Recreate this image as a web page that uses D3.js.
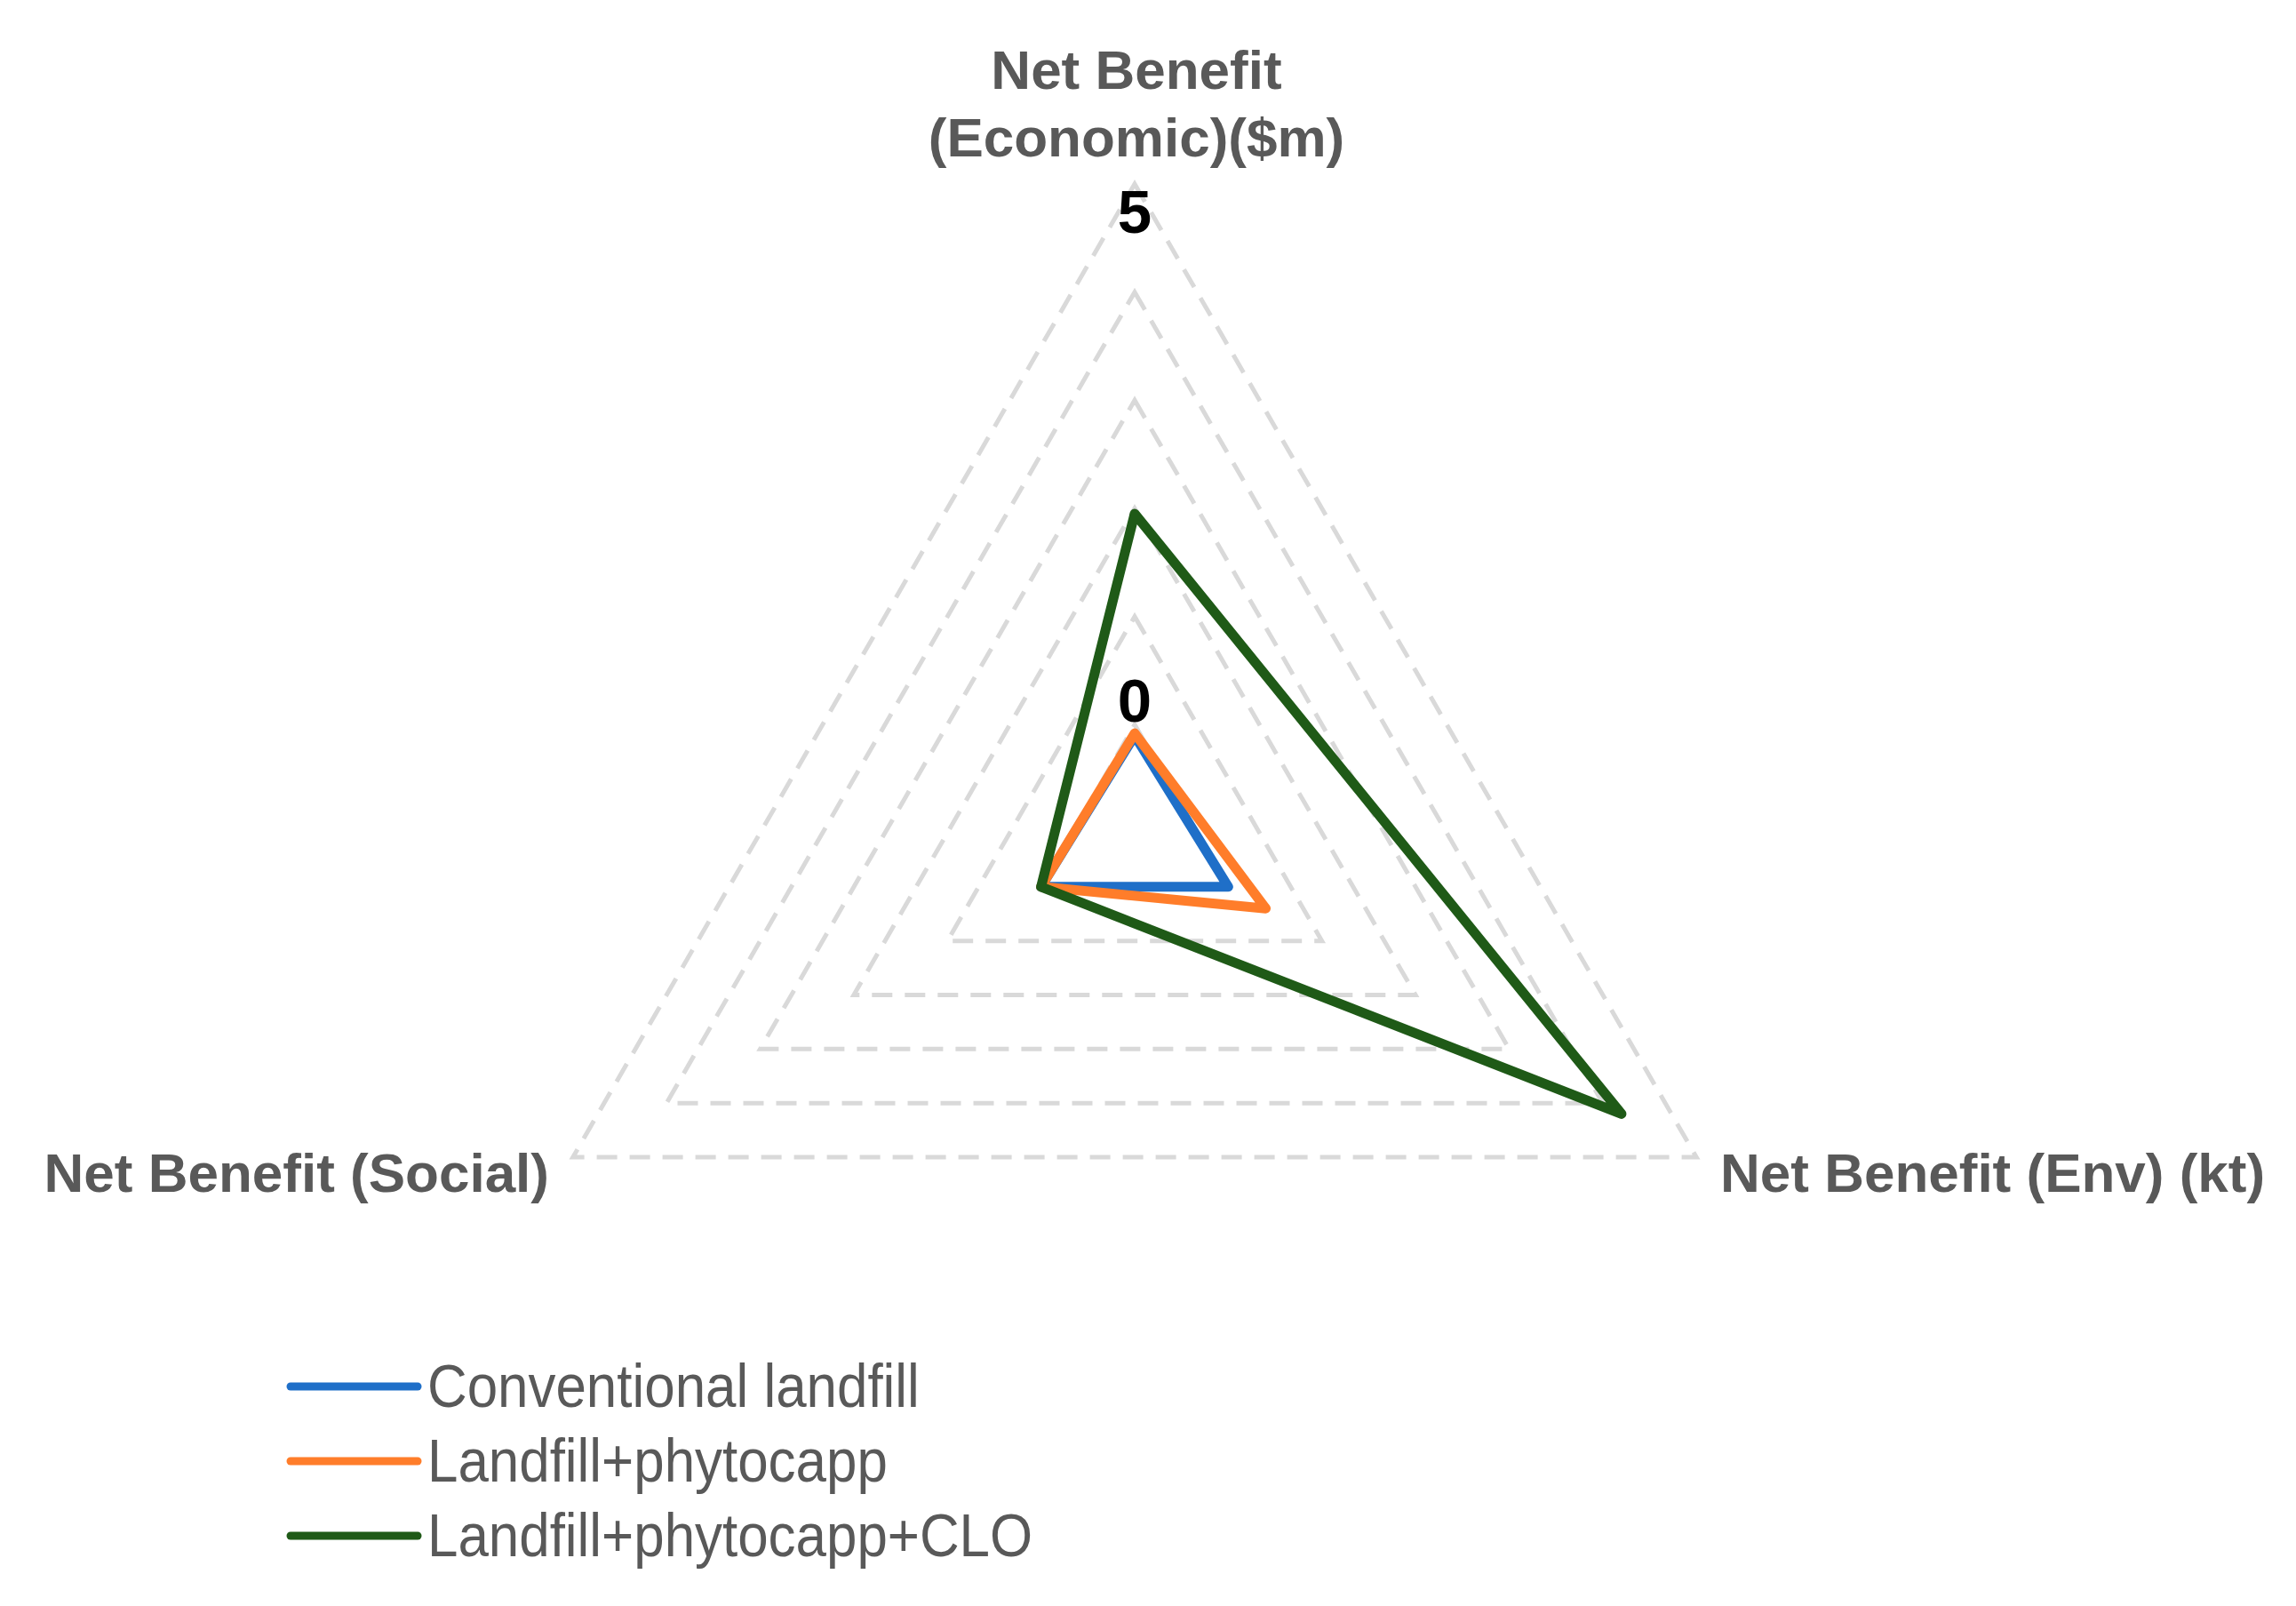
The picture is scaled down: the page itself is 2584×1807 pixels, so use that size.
<!DOCTYPE html>
<html>
<head>
<meta charset="utf-8">
<script src="https://cdn.jsdelivr.net/npm/d3@7"></script>
<style>
  body { margin: 0; background: #fff; }
  svg { display: block; }
</style>
</head>
<body>
<svg id="chart" width="2584" height="1807"></svg>
<script>
'use strict';

// axes, clockwise from the top
var categories = ['Net Benefit (Economic)($m)', 'Net Benefit (Env) (kt)', 'Net Benefit (Social)'];
var seriesNames = ['Conventional landfill', 'Landfill+phytocapp', 'Landfill+phytocapp+CLO'];
var conventional = [-0.1, 0.0, 0.0];
var phytocapp = [-0.08, 0.4, 0.0];
var phytocappClo = [1.95, 4.2, 0.0];
var gridTicks = [0, 1, 2, 3, 4, 5];
var tickLabels = [0, 5];

var colors = ['#1f6fc8', '#ff7d2a', '#1f5a17'];
var seriesValues = [conventional, phytocapp, phytocappClo];

var svg = d3.select('#chart'),
    cx = 1277,
    cy = 937,
    outerRadius = 730;

var r = d3.scaleLinear()
    .domain([-1, 5])
    .range([0, outerRadius]);

var angle = d3.scalePoint()
    .domain(d3.range(categories.length))
    .range([0, 2 * Math.PI * (categories.length - 1) / categories.length]);

var g = svg.append('g')
    .attr('transform', 'translate(' + cx + ',' + cy + ')');

// dashed triangular gridlines
var gridLine = d3.lineRadial()
    .angle(function (d, i) { return angle(i); })
    .radius(function (d) { return r(d); })
    .curve(d3.curveLinearClosed);

g.append('g')
    .attr('class', 'grid')
  .selectAll('path')
    .data(gridTicks)
  .enter().append('path')
    .attr('d', function (t) { return gridLine(categories.map(function () { return t; })); })
    .style('fill', 'none')
    .style('stroke', '#d9d9d9')
    .style('stroke-width', 5)
    .style('stroke-dasharray', '23,14');

// series
var seriesLine = d3.lineRadial()
    .angle(function (d, i) { return angle(i); })
    .radius(function (d) { return r(d); })
    .curve(d3.curveLinearClosed);

g.append('g')
    .attr('class', 'series')
  .selectAll('path')
    .data(seriesValues)
  .enter().append('path')
    .attr('d', seriesLine)
    .style('fill', 'none')
    .style('stroke', function (d, i) { return colors[i]; })
    .style('stroke-width', 11)
    .style('stroke-linejoin', 'round');

// tick labels on the vertical axis ("0" sits above its ring, "5" below the apex)
g.append('g')
    .attr('class', 'ticks')
  .selectAll('text')
    .data(tickLabels)
  .enter().append('text')
    .attr('x', 0)
    .attr('y', function (t) { return -r(t) + (t === 5 ? 55 : -3); })
    .attr('text-anchor', 'middle')
    .style('font-family', '"Liberation Sans", Arial, sans-serif')
    .style('font-weight', 'bold')
    .style('font-size', '69px')
    .style('fill', '#000')
    .text(function (t) { return t; });

// category labels
var labelFont = '"Liberation Sans", Arial, sans-serif';

var topLabel = svg.append('text')
    .attr('x', 1279)
    .attr('y', 100)
    .attr('text-anchor', 'middle')
    .style('font-family', labelFont)
    .style('font-weight', 'bold')
    .style('font-size', '62px')
    .style('fill', '#595959');
topLabel.append('tspan').attr('x', 1279).text('Net Benefit');
topLabel.append('tspan').attr('x', 1279).attr('dy', 76).text('(Economic)($m)');

svg.append('text')
    .attr('x', 1936)
    .attr('y', 1341)
    .style('font-family', labelFont)
    .style('font-weight', 'bold')
    .style('font-size', '62px')
    .style('fill', '#595959')
    .text(categories[1]);

svg.append('text')
    .attr('x', 618)
    .attr('y', 1341)
    .attr('text-anchor', 'end')
    .style('font-family', labelFont)
    .style('font-weight', 'bold')
    .style('font-size', '62px')
    .style('fill', '#595959')
    .text(categories[2]);

// legend (text a little taller and narrower than plain Arial)
var legend = svg.append('g')
    .attr('class', 'legend')
    .attr('transform', 'translate(327,1560)');

var item = legend.selectAll('g')
    .data(seriesNames)
  .enter().append('g')
    .attr('transform', function (d, i) { return 'translate(0,' + (i * 84) + ')'; });

item.append('line')
    .attr('x1', 0)
    .attr('x2', 143)
    .style('stroke', function (d, i) { return colors[i]; })
    .style('stroke-width', 9)
    .style('stroke-linecap', 'round');

item.append('text')
    .attr('x', 154)
    .attr('y', 23)
    .style('font-family', labelFont)
    .style('font-size', '68px')
    .style('fill', '#595959')
    .text(function (d) { return d; })
    .each(function () {
        var w = this.getComputedTextLength();
        d3.select(this)
            .attr('textLength', w * 0.91)
            .attr('lengthAdjust', 'spacingAndGlyphs');
    });
</script>
</body>
</html>
